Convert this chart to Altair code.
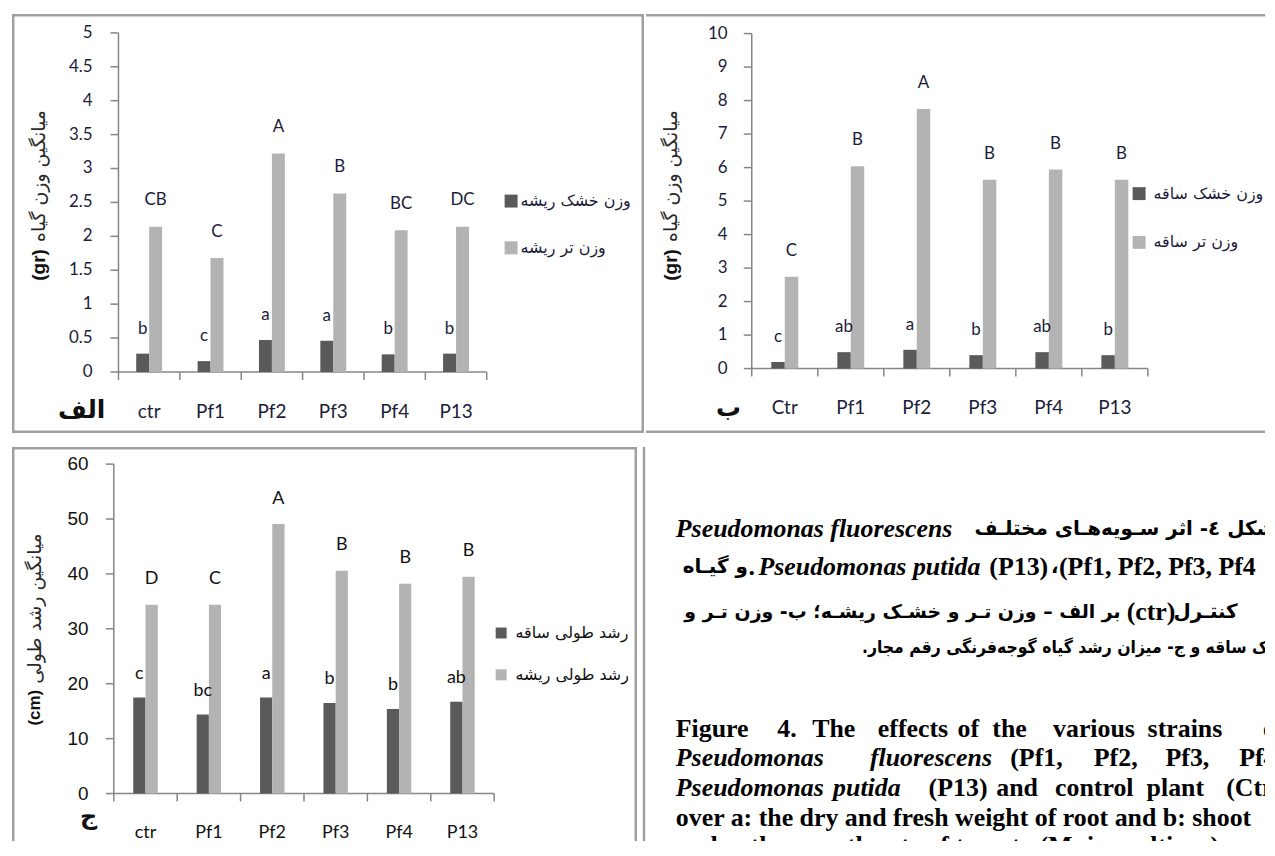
import altair as alt
import pandas as pd

# ---------------- data ----------------
categories_a = ["ctr", "Pf1", "Pf2", "Pf3", "Pf4", "P13"]
categories_b = ["Ctr", "Pf1", "Pf2", "Pf3", "Pf4", "P13"]
categories_c = ["ctr", "Pf1", "Pf2", "Pf3", "Pf4", "P13"]

a_dry = [0.27, 0.16, 0.47, 0.46, 0.26, 0.27]
a_fresh = [2.14, 1.68, 3.22, 2.63, 2.09, 2.14]
a_dry_letters = ["b", "c", "a", "a", "b", "b"]
a_fresh_letters = ["CB", "C", "A", "B", "BC", "DC"]
a_series = ["وزن خشک ریشه", "وزن تر ریشه"]
a_yticks = [0, 0.5, 1, 1.5, 2, 2.5, 3, 3.5, 4, 4.5, 5]
a_ytick_labels = ["0", "0.5", "1", "1.5", "2", "2.5", "3", "3.5", "4", "4.5", "5"]

b_dry = [0.20, 0.49, 0.56, 0.40, 0.49, 0.40]
b_fresh = [2.74, 6.04, 7.75, 5.64, 5.94, 5.64]
b_dry_letters = ["c", "ab", "a", "b", "ab", "b"]
b_fresh_letters = ["C", "B", "A", "B", "B", "B"]
b_series = ["وزن خشک ساقه", "وزن تر ساقه"]
b_yticks = [0, 1, 2, 3, 4, 5, 6, 7, 8, 9, 10]
b_ytick_labels = ["0", "1", "2", "3", "4", "5", "6", "7", "8", "9", "10"]

c_stem = [17.5, 14.4, 17.5, 16.5, 15.4, 16.7]
c_root = [34.4, 34.4, 49.1, 40.6, 38.2, 39.5]
c_stem_letters = ["c", "bc", "a", "b", "b", "ab"]
c_root_letters = ["D", "C", "A", "B", "B", "B"]
c_series = ["رشد طولی ساقه", "رشد طولی ریشه"]
c_yticks = [0, 10, 20, 30, 40, 50, 60]
c_ytick_labels = ["0", "10", "20", "30", "40", "50", "60"]

ytitle_fa_ab = "میانگین وزن گیاه"
ytitle_fa_c = "میانگین رشد طولی"
panel_labels = ["الف", "ب", "ج"]

# ---------------- helpers ----------------
ONE = pd.DataFrame({"o": [0]})
BORDER = "#a0a0a0"
AXIS = "#868686"
DARK = "#5a5a5a"
LIGHT = "#b3b3b3"
FA = "DejaVu Sans"


def label(text, x, y, **kw):
    return alt.Chart(ONE).mark_text(text=text, **kw).encode(x=alt.value(x), y=alt.value(y))


def hline(x1, x2, y, color=BORDER, w=2.5):
    return alt.Chart(ONE).mark_rule(color=color, strokeWidth=w).encode(
        x=alt.value(x1), x2=alt.value(x2), y=alt.value(y))


def vline(x, y1, y2, color=BORDER, w=2.5):
    return alt.Chart(ONE).mark_rule(color=color, strokeWidth=w).encode(
        x=alt.value(x), y=alt.value(y1), y2=alt.value(y2))


def box(x1, y1, x2, y2, color):
    return alt.Chart(ONE).mark_rect(color=color).encode(
        x=alt.value(x1), x2=alt.value(x2), y=alt.value(y1), y2=alt.value(y2))


def bar_panel(W, H, cats, dark, light, dlet, llet, series, yticks, ylabels, ymax,
              xa, xb, y0, y1, bw, tick_font, tick_size, tick_right, tick_color,
              cat_font, cat_size, cat_y, let_size, let_dy, text_color, leg, ytitle,
              plabel, borders):
    n = len(cats)
    rows = []
    for i, c in enumerate(cats):
        rows.append(dict(i=i, cat=c, s=0, v=dark[i], lab=dlet[i]))
        rows.append(dict(i=i, cat=c, s=1, v=light[i], lab=llet[i]))
    df = pd.DataFrame(rows)
    xs = alt.Scale(domain=[0, n], range=[xa, xb], nice=False, zero=False)
    ys = alt.Scale(domain=[0, ymax], range=[y0, y1], nice=False)

    base = alt.Chart(df).transform_calculate(
        xl=f"datum.i + 0.5 - (datum.s == 0 ? {bw} : 0)",
        xr=f"datum.i + 0.5 + (datum.s == 0 ? 0 : {bw})",
        xm=f"datum.i + 0.5 + (datum.s == 0 ? {-bw / 2} : {bw / 2})",
    )
    bars = base.mark_bar().encode(
        x=alt.X("xl:Q", scale=xs, axis=None),
        x2="xr:Q",
        y=alt.Y("v:Q", scale=ys, axis=None, stack=None),
        y2=alt.datum(0),
        color=alt.condition("datum.s == 0", alt.value(DARK), alt.value(LIGHT)),
    )
    lay = []
    for s in (0, 1):
        lay.append(base.transform_filter(f"datum.s == {s}").mark_text(
            font="Lato", fontSize=let_size, color=text_color, baseline="middle",
            dy=let_dy[s]).encode(
            x=alt.X("xm:Q", scale=xs, axis=None),
            y=alt.Y("v:Q", scale=ys, axis=None),
            text="lab:N"))

    # axes drawn from the same scales
    tdf = pd.DataFrame({"t": yticks, "lab": ylabels})
    yt_rules = alt.Chart(tdf).mark_rule(color=AXIS, strokeWidth=1.5).encode(
        y=alt.Y("t:Q", scale=ys, axis=None), x=alt.value(xa - 8), x2=alt.value(xa))
    yt_text = alt.Chart(tdf).mark_text(font=tick_font, fontSize=tick_size, color=tick_color,
                                       align="right", baseline="middle").encode(
        y=alt.Y("t:Q", scale=ys, axis=None), x=alt.value(tick_right), text="lab:N")
    kdf = pd.DataFrame({"k": list(range(n + 1))})
    xt_rules = alt.Chart(kdf).mark_rule(color=AXIS, strokeWidth=1.5).encode(
        x=alt.X("k:Q", scale=xs, axis=None), y=alt.value(y0), y2=alt.value(y0 + 8))
    cdf = pd.DataFrame({"i": list(range(n)), "cat": cats})
    xt_text = alt.Chart(cdf).transform_calculate(xc="datum.i + 0.5").mark_text(
        font=cat_font, fontSize=cat_size, color=text_color, baseline="middle").encode(
        x=alt.X("xc:Q", scale=xs, axis=None), y=alt.value(cat_y), text="cat:N")
    yaxis = vline(xa, y0, y1, AXIS, 1.5)
    xaxis = hline(xa, xb, y0, AXIS, 1.5)

    # legend
    lx, lsz, ly0, ly1, ltx, lfs, lcol = leg
    legend = [
        box(lx, ly0 - lsz / 2, lx + lsz, ly0 + lsz / 2, DARK),
        box(lx, ly1 - lsz / 2, lx + lsz, ly1 + lsz / 2, LIGHT),
        label(series[0], ltx, ly0, font=FA, fontSize=lfs, color=lcol, align="left",
              baseline="middle", clip=True),
        label(series[1], ltx, ly1, font=FA, fontSize=lfs, color=lcol, align="left",
              baseline="middle", clip=True),
    ]
    # y title (rotated): unit at bottom, Persian above
    tx, unit, unit_bottom, unit_size, fa_text, fa_bottom, fa_size = ytitle
    titles = [
        label(unit, tx, unit_bottom, font="Liberation Sans", fontSize=unit_size,
              fontWeight="bold", color="#111111", angle=270, align="left", baseline="middle"),
        label(fa_text, tx, fa_bottom, font=FA, fontSize=fa_size, color="#2a2a2a",
              angle=270, align="left", baseline="middle"),
    ]
    ptext, px, py, psize = plabel
    pl = label(ptext, px, py, font=FA, fontSize=psize, fontWeight="bold", color="#111111",
               baseline="middle", clip=True)

    layers = borders + [yt_rules, xt_rules, yaxis, xaxis, bars] + lay + [yt_text, xt_text] \
        + legend + titles + [pl]
    return alt.layer(*layers).properties(width=W, height=H)


# ---------------- panel A ----------------
WA, HA = 635, 421
A = bar_panel(
    WA, HA, categories_a, a_dry, a_fresh, a_dry_letters, a_fresh_letters, a_series,
    a_yticks, a_ytick_labels, 5,
    xa=107, xb=477, y0=359.7, y1=19, bw=0.211,
    tick_font="Lato", tick_size=17, tick_right=81, tick_color="#1b1b3a",
    cat_font="Lato", cat_size=19, cat_y=400, let_size=17, let_dy=(-25, -26.5),
    text_color="#1b1b3a",
    leg=(495, 13, 188, 235, 511, 16, "#1b1b3a"),
    ytitle=(27, "(gr)", 268, 19, ytitle_fa_ab, 229, 19),
    plabel=(panel_labels[0], 70, 398, 25),
    borders=[alt.Chart(ONE).mark_rect(fill="white", fillOpacity=0, stroke=BORDER,
                                      strokeWidth=2.5).encode(
        x=alt.value(1.25), x2=alt.value(WA - 1.25), y=alt.value(1.25), y2=alt.value(HA - 1.25))],
)

# ---------------- panel B ----------------
WB, HB = 622, 421
B = bar_panel(
    WB, HB, categories_b, b_dry, b_fresh, b_dry_letters, b_fresh_letters, b_series,
    b_yticks, b_ytick_labels, 10,
    xa=106.3, xb=504.3, y0=356.3, y1=19.7, bw=0.204,
    tick_font="Lato", tick_size=17, tick_right=82, tick_color="#1b1b3a",
    cat_font="Lato", cat_size=19, cat_y=396, let_size=17, let_dy=(-25, -26),
    text_color="#1b1b3a",
    leg=(489, 13, 180.5, 229.5, 510, 16, "#1b1b3a"),
    ytitle=(25, "(gr)", 268, 19, ytitle_fa_ab, 229, 19),
    plabel=(panel_labels[1], 83, 396, 25),
    borders=[hline(0, WB, 1.25), hline(0, WB, HB - 1.25)],
)

# ---------------- panel C ----------------
WC, HC = 628, 396
C = bar_panel(
    WC, HC, categories_c, c_stem, c_root, c_stem_letters, c_root_letters, c_series,
    c_yticks, c_ytick_labels, 60,
    xa=102.3, xb=484.5, y0=348.3, y1=17.3, bw=0.193,
    tick_font="Liberation Sans", tick_size=19, tick_right=77, tick_color="#111111",
    cat_font="Lato", cat_size=18, cat_y=388, let_size=18, let_dy=(-24, -25.5),
    text_color="#111111",
    leg=(486, 11, 187, 229, 506, 16, "#111111"),
    ytitle=(23, "(cm)", 280, 17, ytitle_fa_c, 238, 19),
    plabel=(panel_labels[2], 77, 372, 24),
    borders=[hline(0, WC, 1.25), vline(1.25, 0, HC), vline(WC - 1.25, 0, HC)],
)

# ---------------- caption panel ----------------
WD, HD = 629, 396
OX, OY = 638, 445
SERIF = "Liberation Serif"
ENG = 26
FAS = 20
FA_COND = "DejaVu Sans Condensed, DejaVu Sans"

caption_fa = [
    ("شکل ٤- اثر سـویه‌هـای مختلـف", 975, 528, "left", FAS, FA),
    ("و گیـاه", 682, 566, "left", FAS, FA),
    ("،", 1052, 566, "left", FAS, FA),
    ("کنتـرل", 1175, 611, "left", FAS, FA),
    ("بر الف – وزن تـر و خشـک ریشـه؛ ب- وزن تـر و", 1122, 611, "right", 19, FA),
    ("خشک ساقه و ج- میزان رشد گیاه گوجه‌فرنگی رقم مجار.\u200F", 862, 647, "left", 17.5, FA_COND),
]
caption_bi = [
    ("Pseudomonas fluorescens", 675, 528),
    ("Pseudomonas putida", 758, 566),
    ("Pseudomonas", 675, 758), ("fluorescens", 870, 758),
    ("Pseudomonas", 675, 788), ("putida", 833, 788),
]
caption_b = [
    (".", 748, 566), ("(P13)", 990, 566), ("(Pf1, Pf2, Pf3, Pf4", 1060, 566),
    ("(ctr)", 1128, 611),
    ("Figure", 675, 728), ("4.", 777, 728), ("The", 812, 728), ("effects", 878, 728),
    ("of", 958, 728), ("the", 993, 728), ("various", 1054, 728), ("strains", 1149, 728),
    ("of", 1265, 728),
    ("(Pf1,", 1011, 758), ("Pf2,", 1095, 758), ("Pf3,", 1167, 758), ("Pf4),", 1241, 758),
    ("(P13)", 929, 788), ("and", 997, 788), ("control", 1056, 788), ("plant", 1148, 788),
    ("(Ctrl)", 1228, 788),
    ("over a: the dry and fresh weight of root and b: shoot", 675, 818),
    ("and c: the growth rate of tomato (Majar cultivar).", 675, 846),
]

dl = [vline(5, 0, HD)]
for t, x, y, al, fs, fnt in caption_fa:
    dl.append(label(t, x - OX, y - OY, font=fnt, fontSize=fs, fontWeight="bold",
                    color="#000000", align=al, baseline="middle", clip=True))
for t, x, y in caption_bi:
    dl.append(label(t, x - OX, y - OY, font=SERIF, fontSize=ENG, fontWeight="bold",
                    fontStyle="italic", color="#000000", align="left", baseline="middle",
                    clip=True))
for t, x, y in caption_b:
    dl.append(label(t, x - OX, y - OY, font=SERIF, fontSize=ENG, fontWeight="bold",
                    color="#000000", align="left", baseline="middle", clip=True))
D = alt.layer(*dl).properties(width=WD, height=HD)

top = alt.hconcat(A, B, spacing=0).resolve_scale(x="independent", y="independent")
bottom = alt.hconcat(C, D, spacing=0).resolve_scale(x="independent", y="independent")
chart = alt.vconcat(top, bottom, spacing=12).resolve_scale(
    x="independent", y="independent"
).properties(
    padding={"left": 2, "top": 4, "right": 0, "bottom": 0},
    background="white",
).configure_view(strokeWidth=0)

chart.save("out.html", embed_options={"renderer": "svg", "actions": False})
